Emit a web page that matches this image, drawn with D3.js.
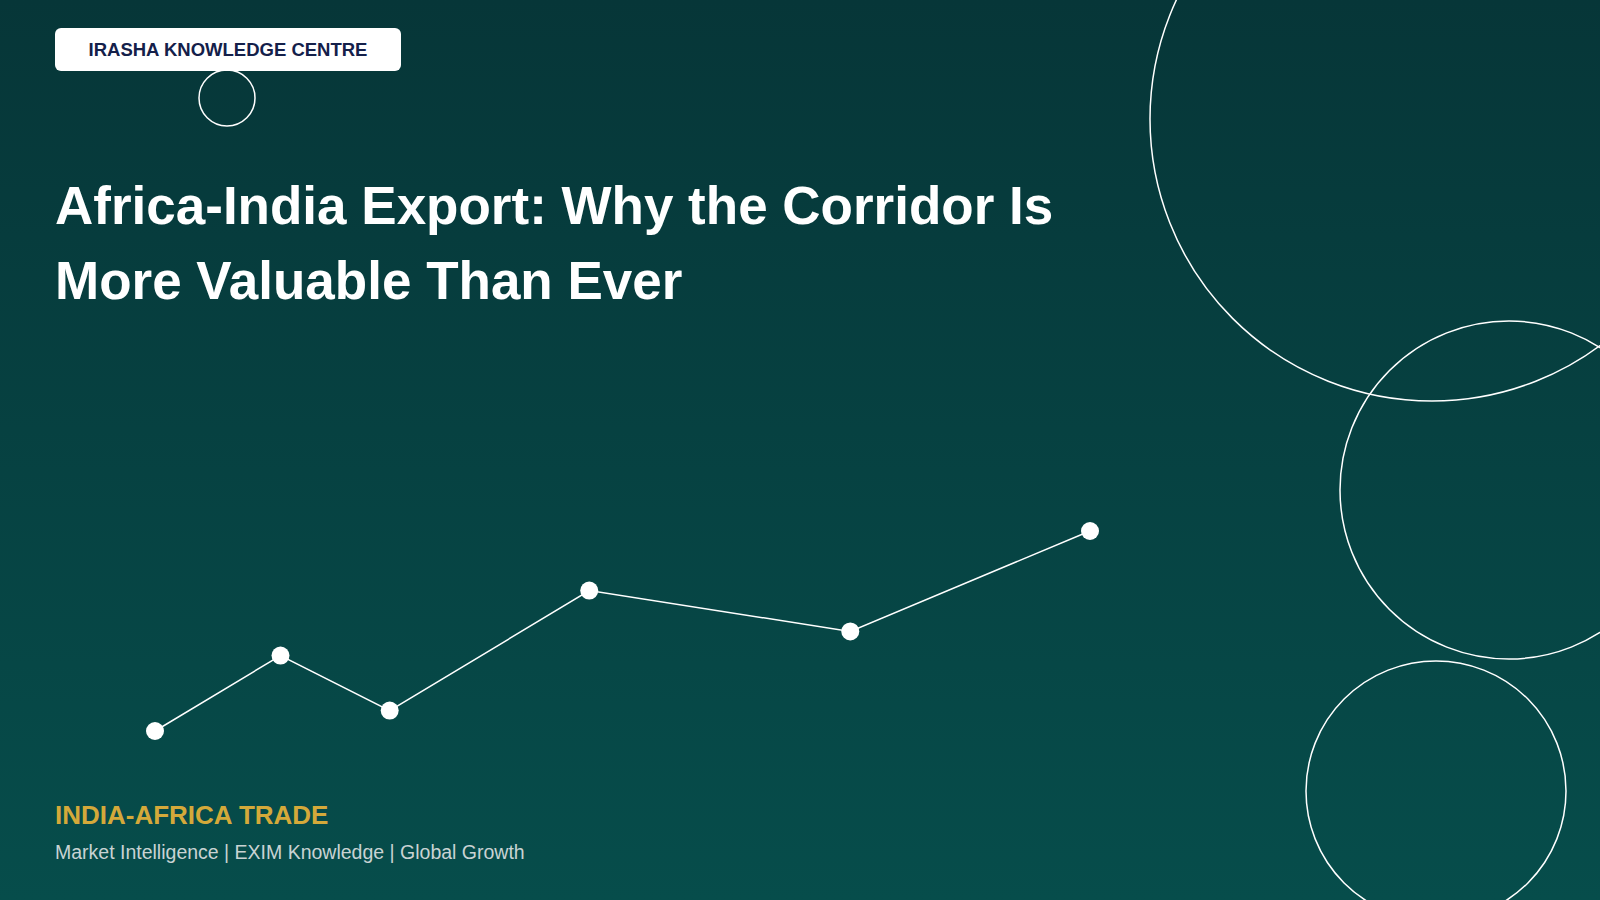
<!DOCTYPE html>
<html><head><meta charset="utf-8">
<script src="https://cdn.jsdelivr.net/npm/d3@7"></script>
<style>html,body{margin:0;padding:0;overflow:hidden}</style>
</head><body>
<script>
const pointX = [1, 2, 2.87, 4.46, 6.54, 8.45];
const pointY = [1.0, 2.0, 1.27, 2.86, 2.32, 3.65];
const titleLines = ["Africa-India Export: Why the Corridor Is", "More Valuable Than Ever"];
const badgeText = "IRASHA KNOWLEDGE CENTRE";
const footTitle = "INDIA-AFRICA TRADE";
const footSub = "Market Intelligence | EXIM Knowledge | Global Growth";

const W = 1600, H = 900;
const svg = d3.select("body").append("svg").attr("width", W).attr("height", H);
const defs = svg.append("defs");
const g = defs.append("linearGradient").attr("id","bg").attr("x1",0).attr("y1",0).attr("x2",0).attr("y2",1);
g.append("stop").attr("offset","0%").attr("stop-color","#063638");
g.append("stop").attr("offset","100%").attr("stop-color","#064d4b");
svg.append("rect").attr("width",W).attr("height",H).attr("fill","url(#bg)");

const deco = [[1432,119,282],[1509,490,169],[1436,791,130],[227,98,28]];
svg.selectAll("circle.deco").data(deco).join("circle").attr("class","deco")
  .attr("cx",d=>d[0]).attr("cy",d=>d[1]).attr("r",d=>d[2])
  .attr("fill","none").attr("stroke","#fff").attr("stroke-width",1.5);

svg.append("rect").attr("x",55).attr("y",28).attr("width",346).attr("height",43).attr("rx",6).attr("fill","#fff");
svg.append("text").attr("x",228).attr("y",56).attr("text-anchor","middle")
  .attr("font-family","Liberation Sans, Arial").attr("font-weight","bold").attr("font-size",18.5)
  .attr("fill","#14204a").text(badgeText);

svg.selectAll("text.title").data(titleLines).join("text").attr("class","title")
  .attr("x",55).attr("y",(d,i)=>224+i*75)
  .attr("font-family","Liberation Sans, Arial").attr("font-weight","bold").attr("font-size",53)
  .attr("fill","#fff").text(d=>d);

const x = d3.scaleLinear().domain([1, 8.45]).range([155, 1090]);
const y = d3.scaleLinear().domain([1, 3.65]).range([731, 531]);
const pts = pointX.map((v,i)=>[v,pointY[i]]);
svg.append("path").datum(pts).attr("fill","none").attr("stroke","#fff").attr("stroke-width",1.5)
  .attr("d", d3.line().x(d=>x(d[0])).y(d=>y(d[1])));
svg.selectAll("circle.pt").data(pts).join("circle").attr("class","pt")
  .attr("cx",d=>x(d[0])).attr("cy",d=>y(d[1])).attr("r",9).attr("fill","#fff");

svg.append("text").attr("x",55).attr("y",824)
  .attr("font-family","Liberation Sans, Arial").attr("font-weight","bold").attr("font-size",26)
  .attr("fill","#d4a93a").text(footTitle);
svg.append("text").attr("x",55).attr("y",859)
  .attr("font-family","Liberation Sans, Arial").attr("font-size",19.5)
  .attr("fill","#c9d3d3").text(footSub);
</script>
</body></html>
